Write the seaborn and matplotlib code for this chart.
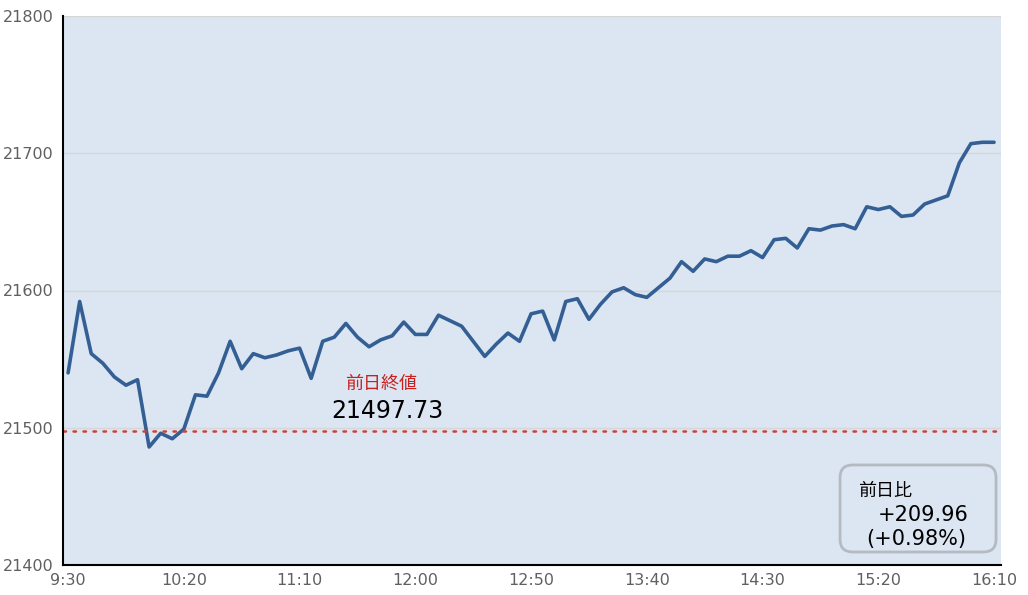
import numpy as np
import pandas as pd
import seaborn as sns
import matplotlib.pyplot as plt
from matplotlib.patches import FancyBboxPatch

# 5-minute prices from 9:30 to 16:10
prices = [
    21540, 21592, 21554, 21547, 21537, 21531, 21535, 21486, 21496, 21492,
    21499, 21524, 21523, 21540, 21563, 21543, 21554, 21551, 21553, 21556,
    21558, 21536, 21563, 21566, 21576, 21566, 21559, 21564, 21567, 21577,
    21568, 21568, 21582, 21578, 21574, 21563, 21552, 21561, 21569, 21563,
    21583, 21585, 21564, 21592, 21594, 21579, 21590, 21599, 21602, 21597,
    21595, 21602, 21609, 21621, 21614, 21623, 21621, 21625, 21625, 21629,
    21624, 21637, 21638, 21631, 21645, 21644, 21647, 21648, 21645, 21661,
    21659, 21661, 21654, 21655, 21663, 21666, 21669, 21693, 21707, 21708,
    21708,
]
minutes = [5 * i for i in range(len(prices))]

tick_minutes = [0, 50, 100, 150, 200, 250, 300, 350, 400]
tick_labels = ["9:30", "10:20", "11:10", "12:00", "12:50", "13:40", "14:30", "15:20", "16:10"]
minor_minutes = [22.5, 72.5, 122.5, 172.5, 222.5, 272.5, 322.5, 372.5, 397.5]

prev_close = 21497.73
change = 209.96
change_pct = 0.98

df = pd.DataFrame({"minute": minutes, "price": prices})

sns.set_style("white")
plt.rcParams["font.family"] = ["DejaVu Sans", "Noto Sans CJK JP"]

fig = plt.figure(figsize=(10.28, 5.95), dpi=100)
ax = fig.add_axes([63 / 1028, 30 / 595, 938 / 1028, 549 / 595])
ax.set_facecolor("#dce6f2")

sns.lineplot(df, x="minute", y="price", color="#345f94", linewidth=2.6, ax=ax)
ax.axhline(prev_close, color="#d0403a", linestyle=(0, (1, 3)), linewidth=1.8,
           dash_capstyle="round")

ax.set_xlim(-2.2, 403)
ax.set_ylim(21400, 21800)
ax.set_yticks([21400, 21500, 21600, 21700, 21800])
ax.set_xticks(tick_minutes)
ax.set_xticklabels(tick_labels)
ax.set_xticks(minor_minutes, minor=True)
ax.grid(axis="y", color="#d6d6d6", linewidth=1)
ax.set_axisbelow(True)
ax.set_xlabel("")
ax.set_ylabel("")

for s in ["top", "right"]:
    ax.spines[s].set_visible(False)
for s in ["left", "bottom"]:
    ax.spines[s].set_color("black")
    ax.spines[s].set_linewidth(1.5)

ax.tick_params(axis="y", which="major", length=3, width=1.2, color="black",
               direction="out", labelsize=11.5, labelcolor="#606060", pad=4)
ax.tick_params(axis="x", which="major", length=0, labelsize=11.5,
               labelcolor="#606060", pad=6)
ax.tick_params(axis="x", which="minor", length=3, width=1.2, color="black",
               direction="in")

ax.text(135, 21532, "前日終値", color="#c8201e", fontsize=13,
        ha="center", va="center")
ax.text(138, 21512, f"{prev_close:.2f}", color="black", fontsize=17,
        ha="center", va="center")

box = FancyBboxPatch((0.8284, 0.0237), 0.1663, 0.1585, transform=ax.transAxes,
                     boxstyle="round,pad=0,rounding_size=0.0135",
                     mutation_aspect=938 / 549,
                     facecolor="#dce6f2", edgecolor="#b4bac2", linewidth=2)
ax.add_patch(box)
ax.text(0.8475, 0.134, "前日比", transform=ax.transAxes, fontsize=13,
        ha="left", va="center", color="black")
ax.text(0.869, 0.091, f"+{change:.2f}", transform=ax.transAxes, fontsize=15,
        ha="left", va="center", color="black")
ax.text(0.856, 0.047, f"(+{change_pct:.2f}%)", transform=ax.transAxes, fontsize=15,
        ha="left", va="center", color="black")

fig.savefig("out.png", dpi=100)
